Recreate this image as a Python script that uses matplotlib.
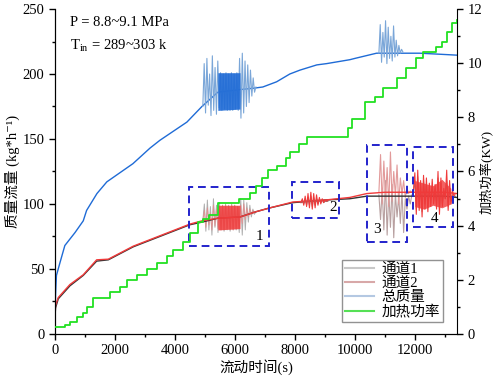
import matplotlib.pyplot as plt
import numpy as np
from matplotlib.patches import Rectangle
from matplotlib.lines import Line2D

plt.rcParams['font.family'] = ['Liberation Serif', 'DejaVu Serif', 'Noto Sans CJK SC']
plt.rcParams['mathtext.fontset'] = 'custom'
plt.rcParams['mathtext.rm'] = 'Liberation Serif'
plt.rcParams['font.size'] = 10.5

# total mass flow (kg/h), base curve
t_total = [0, 20, 50, 170, 330, 500, 670, 944, 1055, 1400, 1730, 2600, 3170, 3500, 4400, 4900,
           5430, 6170, 6600, 6930, 7390, 7830, 8170, 8730, 9060, 9830, 10000, 10720, 11000, 12170, 13000, 13400]
total = [5, 30, 45, 55, 68, 73, 78, 87, 95, 108, 117, 131, 143, 149, 163, 175,
         186, 188, 189, 190, 194, 200, 203, 207, 208, 211, 212, 216, 216, 216, 215, 214.5]

# channel 1 / channel 2 (kg/h), base curves
t_ch = [0, 20, 111, 500, 944, 1390, 1780, 2610, 3500, 4500, 4900, 5430, 6170, 6700, 7170, 7930,
        9000, 9830, 10400, 11000, 12000, 13000, 13400]
ch1 = [12, 20, 27, 37, 45, 56, 57, 67, 75, 84, 86, 89, 90, 94, 97, 101, 103, 104, 106, 106, 106, 106, 105]
ch2 = [13, 22, 28, 38, 45.5, 57, 57.5, 67.5, 75.5, 84.5, 87, 89, 90, 94, 97, 101.5, 103, 105, 108, 109, 109, 109, 108]

# heating power (kW), step levels
t_power = [0, 330, 500, 720, 940, 1055, 1280, 1830, 2170, 2390, 2720, 3060, 3390, 3720, 3940,
           4280, 4500, 4770, 4950, 5150, 5430, 6130, 6500, 6700, 6900, 7100, 7400, 7700, 7850, 8150,
           8400, 9780, 9890, 10330, 10670, 10940, 11390, 11720, 12050, 12270, 12720, 12890, 13070, 13250, 13400]
power = [0.27, 0.33, 0.45, 0.62, 0.77, 1.0, 1.32, 1.56, 1.75, 2.0, 2.18, 2.39, 2.61, 2.86, 3.1,
         3.41, 3.72, 4.15, 4.25, 4.4, 4.83, 4.98, 5.2, 5.45, 5.75, 6.05, 6.2, 6.5, 6.73, 7.0,
         7.27, 7.6, 7.94, 8.58, 8.76, 9.07, 9.44, 9.81, 10.18, 10.4, 10.6, 10.8, 11.15, 11.48, 11.6]

# oscillation segments
osc1_span = (4930, 6700)
total_osc1 = [175, 208, 170, 212, 176, 200, 168, 214, 172, 205, 169, 210, 174, 201, 172, 200, 173, 201, 172, 200,
              172, 201, 172, 200, 173, 201, 172, 212, 166, 216, 170, 210, 175, 207, 178, 203, 183, 197, 186, 190]
ch1_osc1 = [87, 100, 79, 103, 80, 98, 76, 104, 82, 99, 78, 101, 80, 99, 79, 100, 80, 99, 79, 100,
            80, 99, 80, 98, 78, 104, 76, 103, 80, 101, 86, 99, 90, 96, 92, 94]
ch2_osc1 = [87, 95, 82, 97, 84, 93, 80, 99, 83, 96, 81, 98, 80, 99, 80, 99, 81, 98, 80, 99,
            80, 99, 81, 98, 82, 99, 85, 100, 88, 97, 90, 96, 92, 95, 93, 94]
core1_t = [5430, 6170]
total_core1 = [(172, 201), (173, 201)]
ch_core1 = [(80, 99), (81, 99)]

osc2_span = (8200, 9100)
ch2_osc2 = [101, 104, 99, 106, 98, 108, 97, 109, 96, 108, 97, 107, 99, 105, 100, 104, 101, 103, 102, 103]
ch1_osc2 = [101, 103, 100, 104, 99, 105, 99, 106, 98, 105, 99, 104, 100, 103, 101, 103, 101, 102, 102, 102]

osc3_span = (10800, 11900)
ch1_osc3 = [107, 88, 112, 80, 118, 76, 110, 82, 115, 74, 108, 90, 106, 85, 110, 78, 104, 96, 106, 100, 107]
ch2_osc3 = [109, 138, 100, 133, 104, 128, 98, 140, 102, 125, 106, 130, 100, 120, 108, 118, 105, 112, 108, 110, 109]
total_osc3 = [216, 238, 209, 232, 213, 241, 208, 236, 212, 229, 210, 237, 213, 226, 214, 222, 216, 219, 217]
total_osc3_span = (10800, 11600)

osc4_span = (11950, 13350)
ch2_osc4 = [110, 124, 92, 126, 95, 118, 90, 122, 96, 120, 94, 116, 98, 119, 100, 115, 96, 125, 92, 120,
            98, 112, 104, 126, 95, 118, 100, 110, 106, 108]
ch1_osc4 = [108, 118, 96, 121, 99, 115, 94, 119, 100, 116, 97, 113, 101, 114, 102, 112, 99, 120, 96, 116,
            100, 110, 104, 118, 98, 112, 102, 107, 105, 106]
core4_t = [12000, 12300, 12600, 12900, 13200]
core4_lo = [98, 96, 99, 97, 100]
core4_hi = [118, 116, 114, 119, 112]

# dashed boxes: (t0, t1, v0, v1, label, label_t, label_v)
boxes = [(4470, 7130, 68, 113, '1', 6830, 75),
         (7900, 9470, 89, 117, '2', 9270, 97),
         (10400, 11730, 71, 145, '3', 10730, 80),
         (11930, 13270, 82, 144, '4', 12670, 89)]

c_blue = '#1f6bd6'
c_red = '#f03a3a'
c_black = '#333333'
c_green = '#22e022'

fig = plt.figure(figsize=(4.95, 3.76), dpi=100)
ax = fig.add_axes([0.111, 0.112, 0.812, 0.864])
ax2 = ax.twinx()

def seg_t(span, vals):
    return np.linspace(span[0], span[1], len(vals))

# channel 1 / 2
ax.plot(t_ch, ch1, color=c_black, lw=1.0, zorder=3)
ax.plot(t_ch, ch2, color=c_red, lw=1.0, zorder=3)
ax.plot(seg_t(osc1_span, ch1_osc1), ch1_osc1, color='#9a9a9a', lw=0.7, alpha=0.8, zorder=2)
ax.plot(seg_t(osc1_span, ch2_osc1), ch2_osc1, color='#e88a8a', lw=0.7, alpha=0.8, zorder=2)
ax.fill_between(core1_t, [c[0] for c in ch_core1], [c[1] for c in ch_core1], color=c_red, alpha=0.85, lw=0, zorder=3)
ax.plot(seg_t(osc2_span, ch1_osc2), ch1_osc2, color='#777777', lw=0.7, zorder=3)
ax.plot(seg_t(osc2_span, ch2_osc2), ch2_osc2, color=c_red, lw=0.8, zorder=3)
ax.plot(seg_t(osc3_span, ch1_osc3), ch1_osc3, color='#b8a0a0', lw=0.8, zorder=2)
ax.plot(seg_t(osc3_span, ch2_osc3), ch2_osc3, color='#e29a9a', lw=0.8, zorder=2)
ax.plot(seg_t(osc4_span, ch1_osc4), ch1_osc4, color='#8a8a8a', lw=0.7, zorder=2)
ax.fill_between(core4_t, core4_lo, core4_hi, color=c_red, alpha=0.8, lw=0, zorder=3)
ax.plot(seg_t(osc4_span, ch2_osc4), ch2_osc4, color=c_red, lw=0.8, zorder=3)

# total
ax.plot(t_total, total, color=c_blue, lw=1.0, zorder=4)
ax.plot(seg_t(osc1_span, total_osc1), total_osc1, color='#7aa6d8', lw=0.8, zorder=4)
ax.fill_between(core1_t, [c[0] for c in total_core1], [c[1] for c in total_core1], color=c_blue, alpha=0.9, lw=0, zorder=4)
ax.plot(seg_t(total_osc3_span, total_osc3), total_osc3, color='#7aa6d8', lw=0.8, zorder=4)

# dashed boxes
for t0, t1, v0, v1, lab, lt, lv in boxes:
    ax.add_patch(Rectangle((t0, v0), t1 - t0, v1 - v0, fill=False, ec='#2222cc',
                           ls=(0, (4, 2.5)), lw=1.4, zorder=5))
    ax.text(lt, lv, lab, fontsize=11, ha='center', va='center', zorder=6)

# heating power
ax2.plot(t_power, power, color=c_green, lw=1.3, drawstyle='steps-post', zorder=5)

ax.set_xlim(0, 13400)
ax.set_ylim(0, 250)
ax2.set_ylim(0, 12)
ax.set_xticks(range(0, 13000, 2000))
ax.set_xticks(range(1000, 13400, 1000), minor=True)
ax.set_yticks(range(0, 251, 50))
ax.set_yticks(range(25, 250, 50), minor=True)
ax2.set_yticks(range(0, 13, 2))
ax2.set_yticks(range(1, 12, 2), minor=True)
for a in (ax, ax2):
    a.spines['top'].set_visible(False)
    a.tick_params(which='major', direction='out', length=4, width=1, labelsize=10.5)
    a.tick_params(which='minor', direction='out', length=2.5, width=1)
ax.spines['right'].set_visible(False)

ax.set_xlabel('流动时间(s)', labelpad=1)
ax.set_ylabel('质量流量 (kg*h⁻¹)', labelpad=2)
ax2.set_ylabel('加热功率(KW)', fontsize=9.5)
ax2.yaxis.set_label_coords(1.056, 0.5)

ax.text(0.037, 0.958, 'P = 8.8~9.1 MPa', transform=ax.transAxes, va='center', fontsize=10.5)
ax.text(0.037, 0.888, 'T$_{\\rm in}$ = 289~303 k', transform=ax.transAxes, va='center', fontsize=10.5)

handles = [Line2D([], [], color='#c8c8c8', lw=1.5),
           Line2D([], [], color='#d8a8a8', lw=1.5),
           Line2D([], [], color='#b4c8e2', lw=1.5),
           Line2D([], [], color='#55e055', lw=1.5)]
leg = ax2.legend(handles, ['通道1', '通道2', '总质量', '加热功率'], loc='lower right',
                 bbox_to_anchor=(0.965, 0.037), fancybox=False, edgecolor='#777777',
                 fontsize=10.5, handlelength=2.0, labelspacing=0.05, borderpad=0.2,
                 handletextpad=0.5, borderaxespad=0)
leg.get_frame().set_linewidth(1.0)

fig.savefig('out.png', dpi=100)
